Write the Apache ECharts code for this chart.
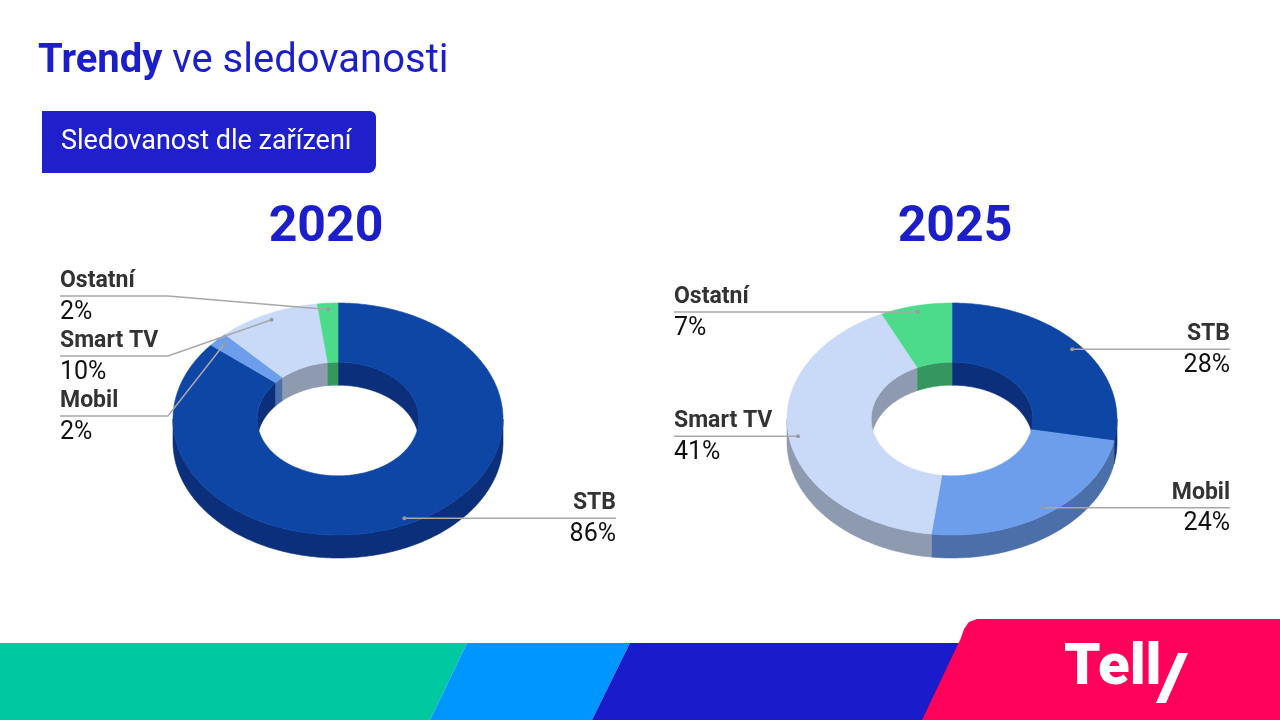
<!DOCTYPE html>
<html>
<head>
<meta charset="utf-8">
<title>Trendy ve sledovanosti</title>
<script src="https://cdn.jsdelivr.net/npm/echarts@6/dist/echarts.min.js"></script>
<style>
  html, body { margin: 0; padding: 0; background: #fff; }
  #main { width: 1280px; height: 720px; }
</style>
</head>
<body>
<div id="main"></div>
<script>
// podily zarizeni (v %)
var devices = ['STB', 'Mobil', 'Smart TV', 'Ostatní'];
var share2020 = [86, 2, 10, 2];
var share2025 = [28, 24, 41, 7];
var years = ['2020', '2025'];

var topColors = ['#0e46a6', '#6d9eeb', '#c9daf8', '#4cdb8b'];
var sideColors = ['#0b2f7a', '#4b6fa8', '#8e9ab0', '#35975f'];
var BLUE = '#1c1fc9';

// geometrie "3D" prstence
var R = 165, TILT = 0.703, INNER = 0.49, DEPTH = 23, ANCHOR = 0.945, GAP = 60;
var centers = [[338, 419], [952, 419]];

function pt(c, r, a, dy) {
    return [c[0] + r * Math.sin(a), c[1] - r * TILT * Math.cos(a) + (dy || 0)];
}
function arc(c, r, a0, a1, dy) {
    var pts = [];
    var n = Math.max(2, Math.ceil(Math.abs(a1 - a0) / (Math.PI / 180)));
    for (var i = 0; i <= n; i++) {
        pts.push(pt(c, r, a0 + (a1 - a0) * i / n, dy));
    }
    return pts;
}
function wall(c, r, a0, a1) {
    return arc(c, r, a0, a1, 0).concat(arc(c, r, a1, a0, DEPTH));
}
// uhly vyseci, po smeru hodin od 12 hodin
function angles(values) {
    var total = values.reduce(function (s, v) { return s + v; }, 0);
    var acc = 0, out = [];
    values.forEach(function (v) {
        var a0 = acc / total * 2 * Math.PI;
        acc += v;
        out.push([a0, acc / total * 2 * Math.PI]);
    });
    return out;
}
// popisky: kotva ve vyseci, pri prekryvu se rozlozi pod sebe
function labelLayout(values, c) {
    var items = angles(values).map(function (a, i) {
        var p = pt(c, R * ANCHOR, (a[0] + a[1]) / 2);
        return { i: i, anchor: p, left: p[0] < c[0], y: p[1] };
    });
    [true, false].forEach(function (left) {
        var g = items.filter(function (it) { return it.left === left; })
                     .sort(function (a, b) { return a.y - b.y; });
        var crowded = false;
        for (var k = 1; k < g.length; k++) {
            if (g[k].y - g[k - 1].y < GAP) crowded = true;
        }
        if (crowded) {
            var mean = g.reduce(function (s, it) { return s + it.y; }, 0) / g.length;
            var start = Math.max(mean - (g.length - 1) * GAP / 2, c[1] - 123);
            g.forEach(function (it, k) { it.y = start + k * GAP; });
        }
    });
    return items;
}

function makeRender(values, c) {
    var ang = angles(values);
    var labels = labelLayout(values, c);
    return function (params, api) {
        var i = params.dataIndex, a0 = ang[i][0], a1 = ang[i][1], kids = [];
        // vnejsi stena - predni polovina
        var s = Math.max(a0, Math.PI / 2), e = Math.min(a1, 1.5 * Math.PI);
        if (s < e) {
            kids.push({ type: 'polygon', z2: 1, shape: { points: wall(c, R, s, e) },
                style: { fill: sideColors[i], stroke: sideColors[i], lineWidth: 0.6 } });
        }
        // vnitrni stena - zadni polovina (videt v otvoru)
        [[0, Math.PI / 2], [1.5 * Math.PI, 2 * Math.PI]].forEach(function (h) {
            var s2 = Math.max(a0, h[0]), e2 = Math.min(a1, h[1]);
            if (s2 < e2) {
                kids.push({ type: 'polygon', z2: 1, shape: { points: wall(c, R * INNER, s2, e2) },
                    style: { fill: sideColors[i], stroke: sideColors[i], lineWidth: 0.6 } });
            }
        });
        // horni plocha
        kids.push({ type: 'polygon', z2: 5,
            shape: { points: arc(c, R, a0, a1).concat(arc(c, R * INNER, a1, a0)) },
            style: { fill: topColors[i], stroke: topColors[i], lineWidth: 0.6 } });
        // popisek
        var L = labels[i];
        var lx = L.left ? c[0] - 278 : c[0] + 278;
        var ex = L.left ? c[0] - 170 : c[0] + 170;
        kids.push({ type: 'polyline', z2: 8, shape: { points: [[lx, L.y], [ex, L.y], L.anchor] },
            style: { stroke: '#a8a8a8', lineWidth: 1.5, fill: null } });
        kids.push({ type: 'circle', z2: 9, shape: { cx: L.anchor[0], cy: L.anchor[1], r: 2 },
            style: { fill: '#9a9a9a' } });
        kids.push({ type: 'text', z2: 9, style: {
            text: devices[i], x: lx, y: L.y - 3,
            textAlign: L.left ? 'left' : 'right', textVerticalAlign: 'bottom',
            font: 'bold 23px Roboto', fill: '#333333' } });
        kids.push({ type: 'text', z2: 9, style: {
            text: api.value(0) + '%', x: lx, y: L.y + 4,
            textAlign: L.left ? 'left' : 'right', textVerticalAlign: 'top',
            font: '25px Roboto', fill: '#111111' } });
        return { type: 'group', children: kids };
    };
}

var myChart = echarts.init(document.getElementById('main'));
var option = {
    animation: false,
    backgroundColor: '#ffffff',
    title: [{
        text: '{b|Trendy} ve sledovanosti',
        left: 33, top: 37,
        textStyle: {
            fontSize: 40, fontWeight: 'normal', fontFamily: 'Roboto', color: BLUE,
            rich: { b: { fontSize: 40, fontWeight: 'bold', fontFamily: 'Roboto', color: BLUE } }
        }
    }],
    graphic: [
        { type: 'rect', shape: { x: 42, y: 111, width: 334, height: 62, r: [0, 6, 8, 0] },
          style: { fill: '#1f1fcc' } },
        { type: 'text', style: { text: 'Sledovanost dle zařízení', x: 61, y: 142,
          textVerticalAlign: 'middle', font: '27px Roboto', fill: '#ffffff' } },
        { type: 'text', style: { text: years[0], x: 326, y: 228, textAlign: 'center',
          textVerticalAlign: 'middle', font: 'bold 50px Roboto', fill: BLUE } },
        { type: 'text', style: { text: years[1], x: 955, y: 228, textAlign: 'center',
          textVerticalAlign: 'middle', font: 'bold 50px Roboto', fill: BLUE } },
        // spodni pruh
        { type: 'polygon', shape: { points: [[0, 643], [467, 643], [430, 720], [0, 720]] },
          style: { fill: '#00c8a0' } },
        { type: 'polygon', shape: { points: [[467, 643], [630, 643], [592, 720], [430, 720]] },
          style: { fill: '#0096ff' } },
        { type: 'polygon', shape: { points: [[630, 643], [962, 643], [925, 720], [592, 720]] },
          style: { fill: '#1a1bcb' } },
        { type: 'polygon', shape: { points: [[922, 720], [961, 638], [964, 629], [969, 622],
          [977, 619], [1280, 619], [1280, 720]] }, style: { fill: '#ff005a' } },
        { type: 'text', style: { text: 'Tell', x: 1064, y: 669, textVerticalAlign: 'middle',
          font: '900 58px Roboto', fill: '#ffffff' } },
        { type: 'polygon', shape: { points: [[1178, 653], [1188, 653], [1166, 703], [1156, 703]] },
          style: { fill: '#ffffff' } }
    ],
    series: [
        { type: 'custom', name: years[0], coordinateSystem: 'none',
          renderItem: makeRender(share2020, centers[0]), data: share2020 },
        { type: 'custom', name: years[1], coordinateSystem: 'none',
          renderItem: makeRender(share2025, centers[1]), data: share2025 }
    ]
};
myChart.setOption(option);
</script>
</body>
</html>
